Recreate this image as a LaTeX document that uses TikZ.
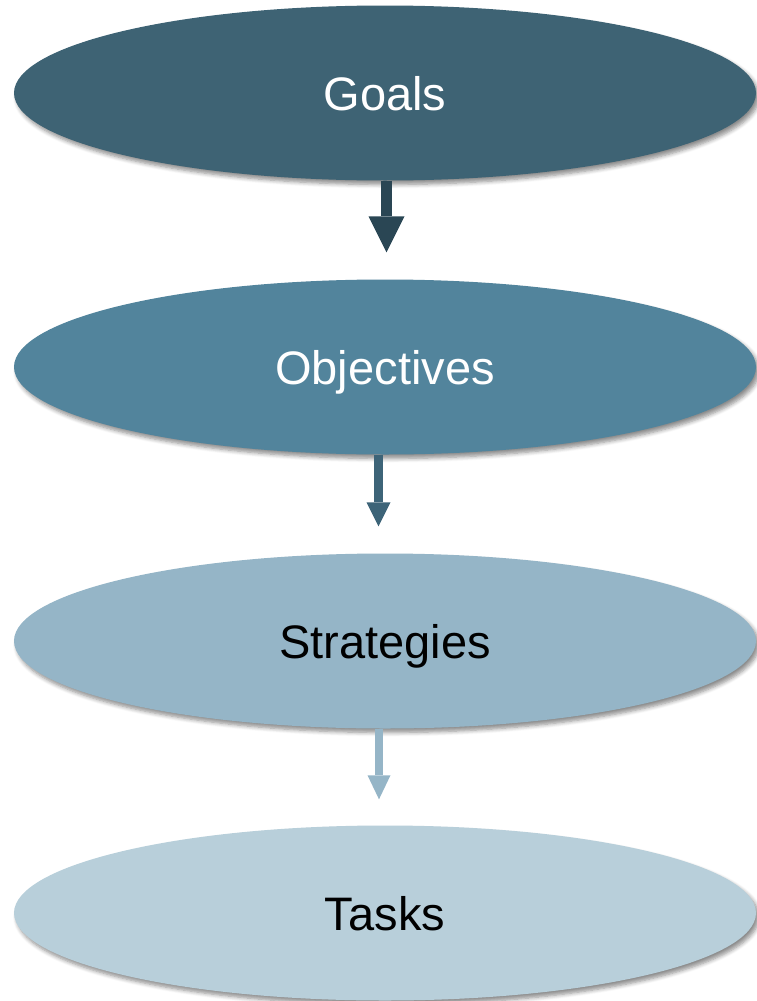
\documentclass[tikz,border=0pt]{standalone}
\usepackage{fontspec}
\setmainfont{Liberation Sans}
\usetikzlibrary{shapes.geometric,arrows.meta,shadows.blur}
\definecolor{cA}{HTML}{3E6374}
\definecolor{cAa}{HTML}{2A4654}
\definecolor{cB}{HTML}{52849C}
\definecolor{cBa}{HTML}{3D6478}
\definecolor{cC}{HTML}{95B5C7}
\definecolor{cCa}{HTML}{95B5C7}
\definecolor{cD}{HTML}{B8CFDA}
\tikzset{
  oval/.style={ellipse, inner sep=0pt, minimum width=742pt, minimum height=175pt,
    blur shadow={shadow xshift=3pt, shadow yshift=-4pt, shadow blur steps=6, shadow blur radius=4pt, shadow opacity=45},
    font=\fontsize{47}{50}\selectfont, text height=34pt, text depth=0pt},
  conn/.style={line width=#1}
}
\begin{document}
\begin{tikzpicture}[x=1pt,y=-1pt]
\useasboundingbox (0,0) rectangle (757,1001);
\node[oval, fill=cA, text=white] (g) at (385,93) {Goals};
\node[oval, fill=cB, text=white] (o) at (385,367) {Objectives};
\node[oval, fill=cC, text=black] (s) at (385,641) {Strategies};
\node[oval, fill=cD, text=black] (t) at (385,913) {Tasks};
\draw[cAa, line width=11pt, -{Triangle[width=36pt,length=36pt,line width=0pt]}, shorten >=27pt]
  ([xshift=1.5pt]g.south) -- ([xshift=1.5pt]o.north);
\draw[cBa, line width=9pt, -{Triangle[width=24pt,length=24pt,line width=0pt]}, shorten >=27pt]
  ([xshift=-6.5pt]o.south) -- ([xshift=-6.5pt]s.north);
\draw[cCa, line width=8pt, -{Triangle[width=23pt,length=24pt,line width=0pt]}, shorten >=26pt]
  ([xshift=-6pt]s.south) -- ([xshift=-6pt]t.north);
\end{tikzpicture}
\end{document}
